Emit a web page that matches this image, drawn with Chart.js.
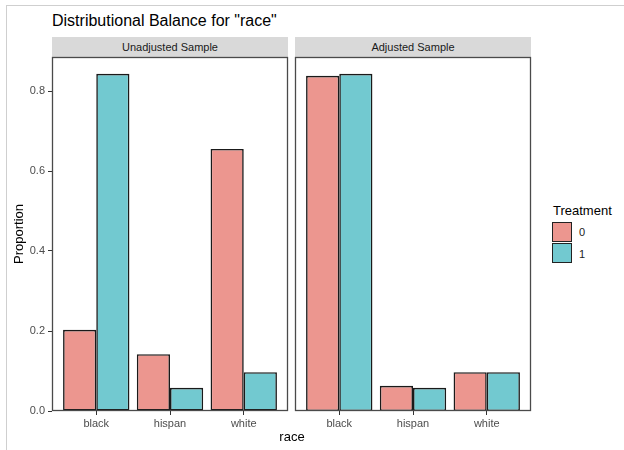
<!DOCTYPE html>
<html>
<head>
<meta charset="utf-8">
<script src="https://cdn.jsdelivr.net/npm/chart.js@4.4.1/dist/chart.umd.min.js"></script>
<style>
  html, body { margin: 0; padding: 0; background: #fff; }
  body { width: 624px; height: 450px; position: relative; overflow: hidden; font-family: "Liberation Sans", Arial, sans-serif; }
  .frame { position: absolute; left: 6px; top: 5px; width: 630px; height: 460px; border-top: 1px solid #cfcfcf; border-left: 1px solid #cfcfcf; }
  .abs { position: absolute; white-space: nowrap; }
  .title { left: 52px; top: 13px; font-size: 16px; line-height: 16px; color: #000; }
  .strip { top: 37px; height: 20px; width: 236px; background: #d9d9d9; font-size: 11px; line-height: 20px; text-align: center; color: #1a1a1a; }
  .xtitle { left: 242px; width: 100px; text-align: center; top: 430px; font-size: 13px; line-height: 13px; color: #000; }
  .legtitle { left: 553px; top: 204px; font-size: 13px; line-height: 13px; color: #000; }
  .key { left: 552px; width: 18px; height: 18px; border: 1.5px solid #222; }
  .keylab { left: 579px; font-size: 11px; line-height: 12px; color: #222222; }
  canvas { position: absolute; }
</style>
</head>
<body>
<div class="frame"></div>
<div class="abs title">Distributional Balance for "race"</div>
<div class="abs strip" id="strip1" style="left:52px;"></div>
<div class="abs strip" id="strip2" style="left:295px;"></div>
<canvas id="c1" width="290" height="413" style="left:0px;top:37px;"></canvas>
<canvas id="c2" width="240" height="413" style="left:293px;top:37px;"></canvas>
<div class="abs xtitle" id="xtitle"></div>
<div class="abs legtitle" id="legtitle"></div>
<div class="abs key" id="key0" style="top:222px;"></div>
<div class="abs key" id="key1" style="top:243px;"></div>
<div class="abs keylab" id="klab0" style="top:226px;"></div>
<div class="abs keylab" id="klab1" style="top:248px;"></div>
<script>
// ---- data ----
const categories = ['black', 'hispan', 'white'];
const panelNames = ['Unadjusted Sample', 'Adjusted Sample'];
const treatmentLevels = ['0', '1'];
const unadjustedTreat0 = [0.203, 0.142, 0.655];
const unadjustedTreat1 = [0.843, 0.058, 0.097];
const adjustedTreat0 = [0.838, 0.063, 0.097];
const adjustedTreat1 = [0.843, 0.058, 0.097];
const yTickValues = [0, 0.2, 0.4, 0.6, 0.8];
const yMax = 0.885;
const titleText = 'Distributional Balance for "race"';
const xTitle = 'race';
const yTitle = 'Proportion';
const legendTitle = 'Treatment';

// ---- styles ----
const fillColors = ['#EC968F', '#72C9D0'];
const FONT = '"Liberation Sans", Arial, sans-serif';
Chart.defaults.font.family = FONT;

document.querySelector('.title').textContent = titleText;
document.getElementById('strip1').textContent = panelNames[0];
document.getElementById('strip2').textContent = panelNames[1];
document.getElementById('xtitle').textContent = xTitle;
document.getElementById('legtitle').textContent = legendTitle;
document.getElementById('key0').style.background = fillColors[0];
document.getElementById('key1').style.background = fillColors[1];
document.getElementById('klab0').textContent = treatmentLevels[0];
document.getElementById('klab1').textContent = treatmentLevels[1];

const panelBorder = {
  id: 'panelBorder',
  afterDatasetsDraw(chart) {
    const a = chart.chartArea;
    const ctx = chart.ctx;
    ctx.save();
    ctx.strokeStyle = '#4a4a4a';
    ctx.lineWidth = 1.3;
    ctx.strokeRect(a.left + 0.5, a.top + 0.5, a.right - a.left - 1, a.bottom - a.top - 1);
    ctx.restore();
  }
};

function toPoints(vals) {
  return vals.map((v, i) => ({ x: i + 1, y: v }));
}

function makeChart(id, s0, s1, showY, padLeft) {
  return new Chart(document.getElementById(id), {
    type: 'bar',
    data: {
      datasets: [
        { label: treatmentLevels[0], data: toPoints(s0), backgroundColor: fillColors[0] },
        { label: treatmentLevels[1], data: toPoints(s1), backgroundColor: fillColors[1] }
      ]
    },
    options: {
      responsive: false,
      animation: false,
      devicePixelRatio: 1,
      layout: { padding: { top: 20, left: padLeft, right: 2, bottom: 0 } },
      datasets: {
        bar: {
          categoryPercentage: 0.9,
          barPercentage: 1.0,
          borderColor: '#1a1a1a',
          borderWidth: 1.6,
          borderSkipped: false
        }
      },
      plugins: { legend: { display: false }, tooltip: { enabled: false }, title: { display: false } },
      scales: {
        x: {
          type: 'linear',
          offset: false,
          min: 0.4,
          max: 3.6,
          afterBuildTicks: (sc) => { sc.ticks = categories.map((c, i) => ({ value: i + 1 })); },
          afterFit: (sc) => { sc.height = 39; },
          ticks: {
            autoSkip: false,
            maxRotation: 0,
            padding: 2,
            color: '#4d4d4d',
            font: { size: 11 },
            callback: (v) => categories[Math.round(v) - 1]
          },
          grid: { display: true, offset: false, drawOnChartArea: false, drawTicks: true, tickLength: 4, color: '#333', lineWidth: 1 },
          border: { display: false }
        },
        y: {
          display: showY,
          min: 0,
          max: yMax,
          afterBuildTicks: (sc) => { sc.ticks = yTickValues.map(v => ({ value: v })); },
          afterFit: (sc) => { sc.width = showY ? 52 : 0; },
          ticks: {
            padding: 3,
            color: '#4d4d4d',
            font: { size: 11 },
            callback: (v) => Number(v).toFixed(1)
          },
          grid: { display: true, drawOnChartArea: false, drawTicks: true, tickLength: 4, color: '#333', lineWidth: 1 },
          border: { display: false },
          title: { display: showY, text: yTitle, color: '#000', font: { size: 13 }, padding: { top: 12, bottom: 0 } }
        }
      }
    },
    plugins: [panelBorder]
  });
}

makeChart('c1', unadjustedTreat0, unadjustedTreat1, true, 0);
makeChart('c2', adjustedTreat0, adjustedTreat1, false, 2);
</script>
</body>
</html>
